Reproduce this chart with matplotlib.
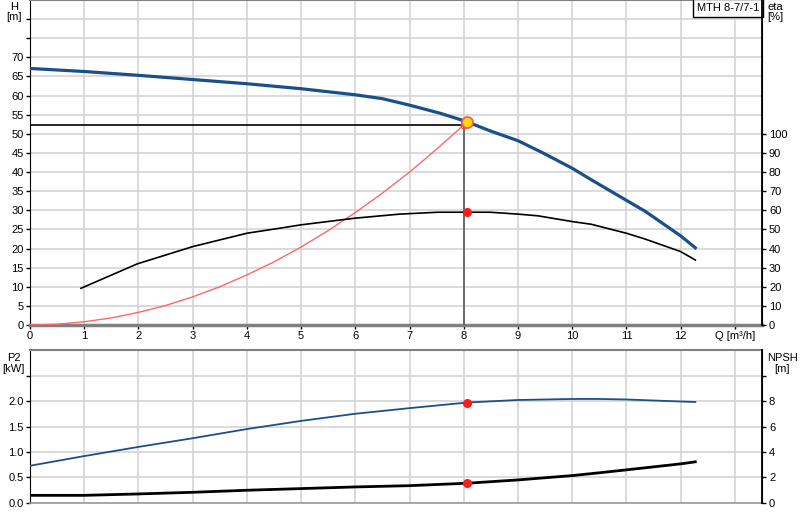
import matplotlib
matplotlib.use("Agg")
import matplotlib.pyplot as plt

plt.rcParams["font.family"] = ["Liberation Sans", "DejaVu Sans"]
plt.rcParams["font.size"] = 8

# pump curve H(Q)
q_h = [0, 1, 2, 3, 4, 5, 6, 6.5, 7, 7.56, 8.05, 8.48, 9, 9.46, 10, 10.35, 11, 11.35, 12, 12.27]
h = [67.1, 66.3, 65.3, 64.2, 63.1, 61.8, 60.2, 59.2, 57.5, 55.4, 53.2, 50.8, 48.2, 45.0, 41.0, 38.0, 32.6, 29.7, 23.3, 20.2]

# system curve
q_sys = [0, 0.5, 1, 1.5, 2, 2.5, 3, 3.5, 4, 4.5, 5, 5.5, 6, 6.5, 7, 7.5, 8]
h_sys = [0, 0.2, 0.85, 1.85, 3.3, 5.1, 7.35, 10.0, 13.1, 16.5, 20.4, 24.7, 29.4, 34.5, 40.0, 46.0, 52.3]

# efficiency
q_eta = [0.94, 1.98, 3, 4, 4.6, 5, 6, 6.82, 7.53, 8.06, 8.48, 9, 9.37, 10, 10.35, 11, 11.35, 12, 12.27]
eta = [19.2, 32, 41, 48, 50.6, 52.4, 55.9, 58, 59, 59, 59, 58, 57.1, 54.1, 52.7, 48, 44.9, 38.4, 34]

# power P2 and NPSH
q_low = [0, 1, 2, 3, 4, 5, 6, 7, 8.06, 9, 10, 10.5, 11, 12, 12.27]
p2 = [0.73, 0.92, 1.10, 1.27, 1.45, 1.61, 1.75, 1.86, 1.97, 2.02, 2.04, 2.04, 2.03, 1.99, 1.98]
npsh = [0.6, 0.6, 0.71, 0.84, 1.0, 1.13, 1.26, 1.36, 1.55, 1.81, 2.15, 2.37, 2.6, 3.07, 3.23]

duty_q = 8.0
duty_h = 52.3
op_q = 8.06
op_h = 53.2
op_eta = 59
op_p2 = 1.97
op_npsh = 1.55

blue = "#1b4f8a"
grid_c = "#d4d4d4"

fig = plt.figure(figsize=(8, 5.2), dpi=100)
ax = fig.add_axes([0.0375, 0.375, 0.915, 0.625])
ax2 = ax.twinx()
bx = fig.add_axes([0.0375, 0.0327, 0.915, 0.2942])
bx2 = bx.twinx()

for a in (ax, bx):
    a.set_xlim(0, 13.5)
    a.set_xticks(range(0, 14))
    a.grid(True, color=grid_c, linewidth=1.2)
    a.set_axisbelow(True)
    a.tick_params(axis="both", length=3, width=1, pad=1.5, labelsize=8)
    a.spines["left"].set_color("black")
    a.spines["top"].set_color("#808080")
    a.spines["top"].set_linewidth(1.5)
ax.spines["bottom"].set_color("#808080")
ax.spines["bottom"].set_linewidth(2.5)
bx.spines["bottom"].set_color("#999999")
bx.spines["bottom"].set_linewidth(1.2)
for a in (ax2, bx2):
    a.spines["right"].set_color("black")
    a.spines["right"].set_linewidth(1.3)
    a.tick_params(axis="y", length=3, width=1, pad=2, labelsize=8)
    for s in ("top", "bottom", "left"):
        a.spines[s].set_visible(False)

# top panel
ax.set_ylim(0, 85)
ax.set_yticks(range(0, 85, 5))
ax.set_yticklabels([str(v) if v <= 70 else "" for v in range(0, 85, 5)])
ax.set_xticklabels([str(v) for v in range(0, 13)] + ["Q [m³/h]"])
ax2.set_ylim(0, 170)
ax2.set_yticks(range(0, 101, 10))

ax.plot(q_sys, h_sys, color="#ff6666", linewidth=1.0, zorder=3)
ax.plot([0, duty_q], [duty_h, duty_h], color="black", linewidth=1.2, zorder=3)
ax.plot([duty_q, duty_q], [0, duty_h], color="#555555", linewidth=1.2, zorder=3)
ax.plot(q_h, h, color=blue, linewidth=2.3, zorder=4)
ax2.plot(q_eta, eta, color="black", linewidth=1.2, zorder=4)
ax.plot(duty_q, duty_h, "o", markersize=5, markerfacecolor="none", markeredgecolor="#ff4444", markeredgewidth=0.8, zorder=5)
ax.plot(op_q, op_h, "o", markersize=8, markerfacecolor="#ffdd00", markeredgecolor="#ff5050", markeredgewidth=1.2, zorder=6)
ax2.plot(op_q, op_eta, "o", markersize=5.5, color="#ff1a1a", zorder=6)

ax.text(-0.022, 0.995, "H\n[m]", transform=ax.transAxes, ha="center", va="top", fontsize=8, linespacing=1.1)
ax2.text(1.018, 0.995, "eta\n[%]", transform=ax2.transAxes, ha="center", va="top", fontsize=8, linespacing=1.1)
ax.text(0.996, 0.99, "MTH 8-7/7-1", transform=ax.transAxes, ha="right", va="top", fontsize=8,
        bbox=dict(boxstyle="square,pad=0.35", facecolor="white", edgecolor="black", linewidth=1), zorder=10)

# bottom panel
bx.set_ylim(0, 3.0)
bx.set_yticks([0, 0.5, 1.0, 1.5, 2.0, 2.5])
bx.set_yticklabels(["0.0", "0.5", "1.0", "1.5", "2.0", ""])
bx.tick_params(axis="x", length=0)
bx.set_xticklabels([])
bx2.set_ylim(0, 12)
bx2.set_yticks([0, 2, 4, 6, 8, 10])
bx2.set_yticklabels(["0", "2", "4", "6", "8", ""])

bx.plot(q_low, p2, color=blue, linewidth=1.3, zorder=4)
bx2.plot(q_low, npsh, color="black", linewidth=2.0, zorder=4)
bx.plot(op_q, op_p2, "o", markersize=5.5, color="#ff1a1a", zorder=6)
bx2.plot(op_q, op_npsh, "o", markersize=5.5, color="#ff1a1a", zorder=6)

bx.text(-0.022, 0.98, "P2\n[kW]", transform=bx.transAxes, ha="center", va="top", fontsize=8, linespacing=1.1)
bx2.text(1.028, 0.98, "NPSH\n[m]", transform=bx2.transAxes, ha="center", va="top", fontsize=8, linespacing=1.1)

fig.savefig("out.png", dpi=100)
